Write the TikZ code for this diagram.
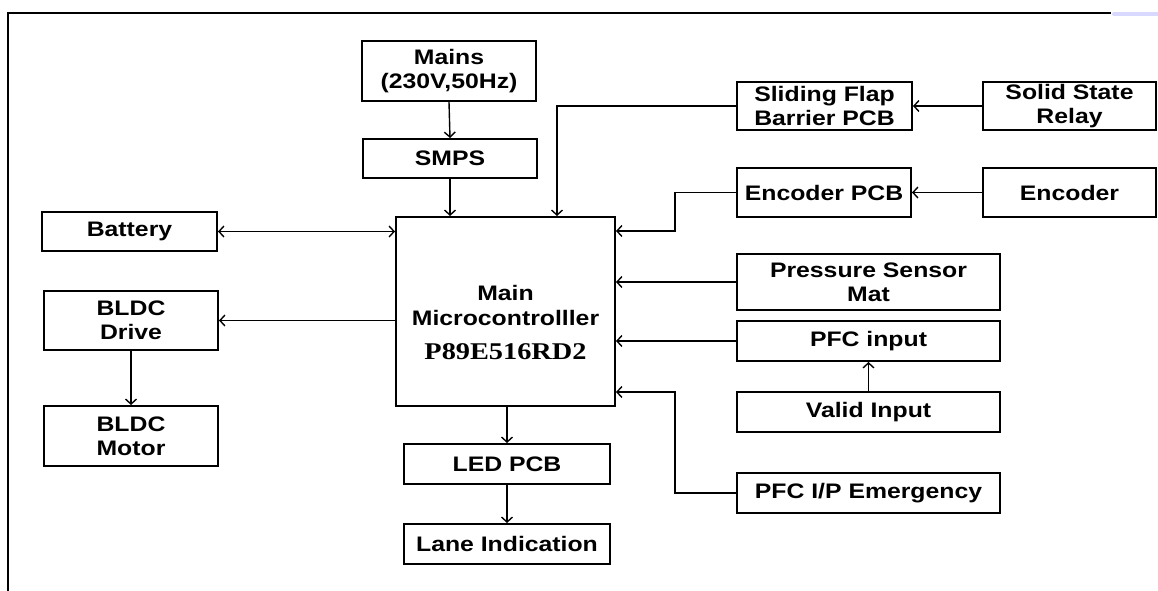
\documentclass[tikz,border=0pt]{standalone}
\usepackage{fontspec}
\setmainfont{Liberation Sans}[FakeStretch=1.18]
\newfontfamily\serifbold{Liberation Serif}[FakeStretch=1.18]
\usetikzlibrary{arrows.meta,calc}
\begin{document}
\begin{tikzpicture}[x=1pt,y=-1pt,
  box/.style={draw, line width=2pt, inner sep=0pt, align=center,
    font=\fontsize{21}{24}\selectfont\bfseries},
  arr/.style={line width=1.4pt, -{Straight Barb[length=5pt,width=11pt,line width=1.4pt]}},
  biarr/.style={line width=1.4pt, {Straight Barb[length=5pt,width=11pt,line width=1.4pt]}-{Straight Barb[length=5pt,width=11pt,line width=1.4pt]}},
  wire/.style={line width=1.4pt}]
\useasboundingbox (0,0) rectangle (1158,591);
% frame
\draw[line width=2.5pt] (8,591) -- (8,13) -- (1111,13);
\draw[line width=4pt, color=blue!15, line cap=round] (1114,14) -- (1158,14);

% nodes
\node[box, minimum width=174pt, minimum height=60pt] (mains) at (449,71) {Mains\\(230V,50Hz)};
\node[box, minimum width=174pt, minimum height=39pt] (smps) at (450,158.5) {SMPS};
\node[box, minimum width=219pt, minimum height=189pt] (main) at (505.5,311.5) {};
\node[align=center, inner sep=0pt, font=\fontsize{21}{25}\selectfont\bfseries] (maintext) at (505.5,323)
  {Main\\Microcontrolller\\[9pt]{\serifbold\fontsize{24}{26}\selectfont P89E516RD2}};
\node[box, minimum width=175pt, minimum height=48pt] (sf) at (824.5,106) {Sliding Flap\\Barrier PCB};
\node[box, minimum width=173pt, minimum height=48pt] (ssr) at (1069.5,106) {Solid State\\Relay};
\node[box, minimum width=174pt, minimum height=49pt] (encpcb) at (824,192.5) {Encoder PCB};
\node[box, minimum width=173pt, minimum height=49pt] (enc) at (1069.5,192.5) {Encoder};
\node[box, minimum width=263pt, minimum height=56pt] (psm) at (868.5,282) {Pressure Sensor\\Mat};
\node[box, minimum width=263pt, minimum height=40pt] (pfc) at (868.5,341) {PFC input};
\node[box, minimum width=263pt, minimum height=40pt] (valid) at (868.5,412) {Valid Input};
\node[box, minimum width=263pt, minimum height=40pt] (emerg) at (868.5,493) {PFC I/P Emergency};
\node[box, minimum width=206pt, minimum height=40pt] (led) at (507,464) {LED PCB};
\node[box, minimum width=206pt, minimum height=40pt] (lane) at (507,544) {Lane Indication};
\node[box, minimum width=175pt, minimum height=39pt] (battery) at (129.5,231.5) {Battery};
\node[box, minimum width=174pt, minimum height=59pt] (drive) at (131,320.5) {BLDC\\Drive};
\node[box, minimum width=174pt, minimum height=60pt] (motor) at (131,436) {BLDC\\Motor};

% connectors
\draw[arr] (mains.south) -- (smps.north);
\draw[arr] (smps.south) -- (smps.south |- main.north);
\draw[arr] (sf.west) -| (557,0 |- main.north);
\draw[arr] (ssr.west) -- (sf.east);
\draw[arr] (enc.west) -- (encpcb.east);
\draw[arr] (encpcb.west) -- ++(-61,0) |- (main.east |- 0,231);
\draw[arr] (psm.west) -- (main.east |- psm.west);
\draw[arr] (pfc.west) -- (main.east |- pfc.west);
\draw[arr] (valid.north) -- (pfc.south);
\draw[arr] (emerg.west) -- ++(-61,0) |- (main.east |- 0,392);
\draw[arr] (led.north |- main.south) -- (led.north);
\draw[arr] (led.south) -- (lane.north);
\draw[biarr] (battery.east) -- (main.west |- battery.east);
\draw[arr] (main.west |- drive.east) -- (drive.east);
\draw[arr] (drive.south) -- (motor.north);
\end{tikzpicture}
\end{document}
